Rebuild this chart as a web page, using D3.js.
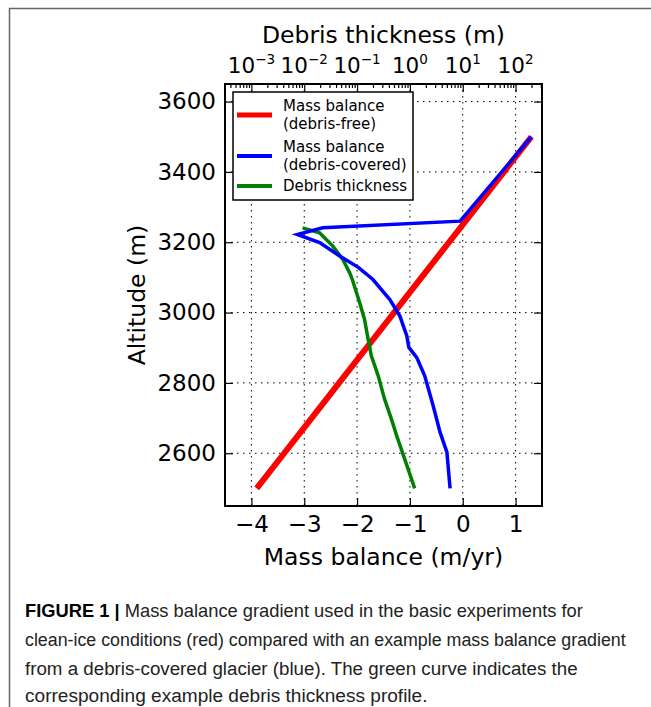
<!DOCTYPE html>
<html>
<head>
<meta charset="utf-8">
<script src="https://cdn.jsdelivr.net/npm/d3@7.9.0/dist/d3.min.js"></script>
<style>
  body { margin: 0; background: #fff; }
  svg { display: block; font-family: "DejaVu Sans", sans-serif; }
  .caption { font-family: "Liberation Sans", Arial, sans-serif; font-size: 19px; fill: #222; }
</style>
</head>
<body>
<svg id="chart" width="651" height="707"></svg>
<script>
// clean-ice mass balance (m/yr) vs altitude (m)
const redAlt = [2500, 2600, 2700, 2800, 2900, 3000, 3100, 3200, 3300, 3400, 3500];
const redMb = [-3.9, -3.38, -2.86, -2.34, -1.82, -1.30, -0.78, -0.26, 0.26, 0.78, 1.30];

// debris-covered mass balance (m/yr)
const blueAlt = [3500, 3260, 3241, 3222, 3199, 3161, 3128, 3094, 3037, 2990, 2934, 2901, 2872, 2820, 2735, 2660, 2603, 2500];
const blueMb = [1.3, -0.05, -2.65, -3.13, -2.71, -2.33, -1.97, -1.70, -1.38, -1.19, -1.06, -1.02, -0.87, -0.72, -0.56, -0.43, -0.30, -0.24];

// debris thickness (m), top log axis
const greenAlt = [3241, 3227, 3189, 3151, 3113, 3094, 3028, 2981, 2924, 2877, 2820, 2754, 2697, 2650, 2584, 2500];
const greenThick = [0.0093, 0.0195, 0.0347, 0.0537, 0.0724, 0.0813, 0.112, 0.138, 0.162, 0.186, 0.251, 0.331, 0.447, 0.562, 0.794, 1.23];

const mbTicks = [-4, -3, -2, -1, 0, 1];
const altTicks = [2600, 2800, 3000, 3200, 3400, 3600];
const thickTicks = [1e-3, 1e-2, 1e-1, 1e0, 1e1, 1e2];
const thickExp = ['-3', '-2', '-1', '0', '1', '2'];

const legendItems = [
  { lines: ['Mass balance', '(debris-free)'], color: '#ff0000', width: 5 },
  { lines: ['Mass balance', '(debris-covered)'], color: '#0000ff', width: 4 },
  { lines: ['Debris thickness'], color: '#008000', width: 4 }
];

const captionLines = [
  { bold: 'FIGURE 1 | ', text: 'Mass balance gradient used in the basic experiments for', width: 558 },
  { bold: '', text: 'clean-ice conditions (red) compared with an example mass balance gradient', width: 601 },
  { bold: '', text: 'from a debris-covered glacier (blue). The green curve indicates the', width: 553 },
  { bold: '', text: 'corresponding example debris thickness profile.', width: 403 }
];

const svg = d3.select('#chart');
const pLeft = 225, pRight = 542, pTop = 84, pBottom = 506;

// figure frame
svg.append('path')
  .attr('d', `M9.5,707 V8.5 H651`)
  .attr('fill', 'none')
  .attr('stroke', '#666')
  .attr('stroke-width', 1.5);

const x = d3.scaleLinear().domain([-4.5, 1.5]).range([pLeft, pRight]);
const xTop = d3.scaleLog().domain([Math.pow(10, -3.5), Math.pow(10, 2.5)]).range([pLeft, pRight]);
const y = d3.scaleLinear().domain([2450, 3650]).range([pBottom, pTop]);

// grid
const grid = svg.append('g').attr('stroke', '#000').attr('stroke-width', 1).attr('stroke-dasharray', '1.5,4.5');
mbTicks.forEach(t => {
  grid.append('line').attr('x1', x(t)).attr('x2', x(t)).attr('y1', pTop).attr('y2', pBottom);
});
altTicks.forEach(t => {
  grid.append('line').attr('x1', pLeft).attr('x2', pRight).attr('y1', y(t)).attr('y2', y(t));
});

// lines
const redLine = d3.line().x((d, i) => x(redMb[i])).y(d => y(d));
svg.append('path').attr('d', redLine(redAlt))
  .attr('fill', 'none').attr('stroke', '#ff0000').attr('stroke-width', 6);

const greenLine = d3.line().x((d, i) => xTop(greenThick[i])).y(d => y(d));
svg.append('path').attr('d', greenLine(greenAlt))
  .attr('fill', 'none').attr('stroke', '#008000').attr('stroke-width', 3.5);

const blueLine = d3.line().x((d, i) => x(blueMb[i])).y(d => y(d));
svg.append('path').attr('d', blueLine(blueAlt))
  .attr('fill', 'none').attr('stroke', '#0000ff').attr('stroke-width', 3.5);

// axes
const fmt = d3.format('d');
svg.append('g').attr('transform', `translate(0,${pBottom})`)
  .call(d3.axisBottom(x).tickValues(mbTicks).tickSizeInner(-8).tickSizeOuter(0).tickPadding(10)
    .tickFormat(d => d < 0 ? '\u2212' + Math.abs(d) : fmt(d)));

svg.append('g').attr('transform', `translate(${pLeft},0)`)
  .call(d3.axisLeft(y).tickValues(altTicks).tickSizeInner(-8).tickSizeOuter(0).tickPadding(9).tickFormat(fmt));

svg.append('g').attr('transform', `translate(${pRight},0)`)
  .call(d3.axisRight(y).tickValues(altTicks).tickSizeInner(-8).tickSizeOuter(0).tickFormat(''));

const minorTicks = xTop.ticks().filter(t => thickTicks.indexOf(t) < 0);
svg.append('g').attr('transform', `translate(0,${pTop})`)
  .call(d3.axisTop(xTop).tickValues(minorTicks).tickSizeInner(-4).tickSizeOuter(0).tickFormat(''));
svg.append('g').attr('transform', `translate(0,${pTop})`)
  .call(d3.axisTop(xTop).tickValues(thickTicks).tickSizeInner(-8).tickSizeOuter(0).tickFormat(''));

svg.selectAll('.domain').remove();
svg.selectAll('.tick line').attr('stroke', '#000').attr('stroke-width', 1.2);
svg.selectAll('.tick text').attr('font-family', '"DejaVu Sans", sans-serif').attr('font-size', 23).attr('fill', '#000');

// top tick labels with superscripts
const topLabels = svg.append('g');
thickTicks.forEach((t, i) => {
  const tx = topLabels.append('text')
    .attr('x', xTop(t)).attr('y', 73)
    .attr('text-anchor', 'middle')
    .attr('font-size', 21.5);
  tx.append('tspan').text('10');
  tx.append('tspan').attr('dy', -9).attr('font-size', 13.5)
    .text(thickExp[i].replace('-', '\u2212'));
});

// frame
svg.append('rect')
  .attr('x', pLeft).attr('y', pTop)
  .attr('width', pRight - pLeft).attr('height', pBottom - pTop)
  .attr('fill', 'none').attr('stroke', '#000').attr('stroke-width', 2);

// axis titles
svg.append('text').attr('x', (pLeft + pRight) / 2).attr('y', 565)
  .attr('text-anchor', 'middle').attr('font-size', 23.5).text('Mass balance (m/yr)');
svg.append('text').attr('x', (pLeft + pRight) / 2).attr('y', 43)
  .attr('text-anchor', 'middle').attr('font-size', 23.5).text('Debris thickness (m)');
svg.append('text')
  .attr('transform', `translate(145,${(pTop + pBottom) / 2}) rotate(-90)`)
  .attr('text-anchor', 'middle').attr('font-size', 23.5).text('Altitude (m)');

// legend
const lg = svg.append('g');
lg.append('rect').attr('x', 233).attr('y', 92).attr('width', 180).attr('height', 108)
  .attr('fill', '#fff').attr('stroke', '#000').attr('stroke-width', 1.5);
const legendY = [115, 156, 186];
legendItems.forEach((d, i) => {
  const ly = legendY[i];
  lg.append('line').attr('x1', 237).attr('x2', 272).attr('y1', ly).attr('y2', ly)
    .attr('stroke', d.color).attr('stroke-width', d.width);
  const first = d.lines.length === 2 ? ly - 4 : ly + 5;
  d.lines.forEach((s, j) => {
    lg.append('text').attr('x', 283).attr('y', first + j * 18)
      .attr('font-size', 15).text(s);
  });
});

// caption
const cap = svg.append('g');
const capY = [617, 646, 675, 702];
captionLines.forEach((c, i) => {
  const t = cap.append('text').attr('class', 'caption').attr('x', 0).attr('y', 0);
  if (c.bold) t.append('tspan').attr('font-weight', 'bold').attr('fill', '#000').text(c.bold);
  t.append('tspan').text(c.text);
  const w = t.node().getComputedTextLength();
  t.attr('transform', `translate(25,${capY[i]}) scale(${c.width / w},1)`);
});
</script>
</body>
</html>
